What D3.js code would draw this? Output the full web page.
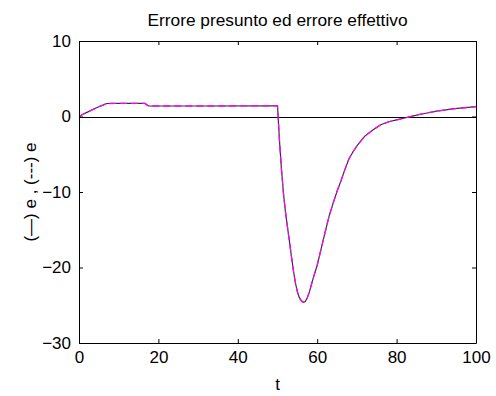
<!DOCTYPE html>
<html>
<head>
<meta charset="utf-8">
<script src="https://cdn.jsdelivr.net/npm/d3@7"></script>
<style>
  html, body { margin: 0; padding: 0; background: #fff; }
  svg { display: block; }
  text { font-family: "Liberation Sans", Arial, sans-serif; }
</style>
</head>
<body>
<svg id="chart" width="496" height="396"></svg>
<script>
// ---- data ----
const title = "Errore presunto ed errore effettivo";
const xLabel = "t";
const yLabel = "(\u2014) e ,  (---) e";
const xTicks = [0, 20, 40, 60, 80, 100];
const yTicks = [-30, -20, -10, 0, 10];
const tValues = [0, 1, 2, 3, 4, 5, 6, 7, 10, 16.6, 17.5, 30, 50,
  50.5, 51, 51.5, 52, 52.5, 53, 53.5, 54, 54.5, 55, 55.5, 56, 56.5, 57, 57.5, 58,
  59, 60, 61, 62, 63, 64, 65, 66, 67, 68, 69, 70, 72, 74, 76, 78, 80, 82, 84, 86,
  88, 90, 92, 94, 96, 98, 100];
const eEffettivo = [0, 0.3, 0.55, 0.8, 1.05, 1.3, 1.5, 1.72, 1.73, 1.73, 1.39, 1.39, 1.4,
  -3.2, -7.0, -10.2, -12.6, -14.6, -16.5, -18.5, -20.4, -22.0, -23.2, -24.0, -24.4, -24.6, -24.5, -24.0, -23.3,
  -21.4, -19.7, -17.5, -15.3, -13.2, -11.5, -9.9, -8.5, -7.0, -5.6, -4.7, -3.9, -2.6, -1.8, -1.1, -0.7, -0.45, -0.2, 0.05, 0.3,
  0.5, 0.7, 0.85, 1.0, 1.1, 1.2, 1.3];
const ePresunto = [0, 0.3, 0.55, 0.8, 1.05, 1.3, 1.5, 1.72, 1.73, 1.73, 1.39, 1.39, 1.4,
  -3.2, -7.0, -10.2, -12.6, -14.6, -16.5, -18.5, -20.4, -22.0, -23.2, -24.0, -24.4, -24.6, -24.5, -24.0, -23.3,
  -21.4, -19.7, -17.5, -15.3, -13.2, -11.5, -9.9, -8.5, -7.0, -5.6, -4.7, -3.9, -2.6, -1.8, -1.1, -0.7, -0.45, -0.2, 0.05, 0.3,
  0.5, 0.7, 0.85, 1.0, 1.1, 1.2, 1.3];

// ---- layout ----
const W = 496, H = 396;
const m = { left: 79, right: 20, top: 41, bottom: 53 };
const svg = d3.select("#chart");
const x = d3.scaleLinear().domain([0, 100]).range([m.left, W - m.right]);
const y = d3.scaleLinear().domain([-30, 10]).range([H - m.bottom, m.top]);
const fs = 17;

const g = svg.append("g");

// zero reference line
g.append("line")
  .attr("x1", x(0)).attr("x2", x(100))
  .attr("y1", Math.round(y(0)) + 0.5).attr("y2", Math.round(y(0)) + 0.5)
  .attr("stroke", "#000").attr("stroke-width", 1);

// series
const line = d3.line().x((d, i) => x(tValues[i])).y(d => y(d));
g.append("path").datum(eEffettivo)
  .attr("d", line).attr("fill", "none")
  .attr("stroke", "#333").attr("stroke-width", 1.2);
g.append("path").datum(ePresunto)
  .attr("d", line).attr("fill", "none")
  .attr("stroke", "#ff00ff").attr("stroke-width", 1.3)
  .attr("stroke-dasharray", "7,4");

// axes (ticks inside, box)
const tickLen = 4;
const axB = d3.axisBottom(x).tickValues(xTicks).tickSizeInner(-tickLen).tickSizeOuter(0).tickPadding(8);
const axT = d3.axisTop(x).tickValues(xTicks).tickSizeInner(-tickLen).tickSizeOuter(0).tickFormat("");
const axL = d3.axisLeft(y).tickValues(yTicks).tickSizeInner(-tickLen).tickSizeOuter(0).tickPadding(8);
const axR = d3.axisRight(y).tickValues(yTicks).tickSizeInner(-tickLen).tickSizeOuter(0).tickFormat("");

function style(sel) {
  sel.selectAll("path").attr("stroke", "#000").attr("stroke-width", 1);
  sel.selectAll("line").attr("stroke", "#000");
  sel.selectAll("text").attr("fill", "#000")
    .style("font-family", "'Liberation Sans', Arial, sans-serif")
    .style("font-size", fs + "px");
}
style(svg.append("g").attr("transform", `translate(0,${H - m.bottom})`).call(axB));
style(svg.append("g").attr("transform", `translate(0,${m.top})`).call(axT));
style(svg.append("g").attr("transform", `translate(${m.left},0)`).call(axL));
style(svg.append("g").attr("transform", `translate(${W - m.right},0)`).call(axR));

// title & labels
svg.append("text").attr("x", (m.left + W - m.right) / 2).attr("y", 26)
  .attr("text-anchor", "middle").style("font-size", "17.3px").text(title);
svg.append("text").attr("x", (m.left + W - m.right) / 2).attr("y", 390)
  .attr("text-anchor", "middle").style("font-size", fs + "px").text(xLabel);
svg.append("text")
  .attr("transform", `translate(36,${(m.top + H - m.bottom) / 2}) rotate(-90)`)
  .attr("text-anchor", "middle").style("font-size", fs + "px").text(yLabel);
</script>
</body>
</html>
